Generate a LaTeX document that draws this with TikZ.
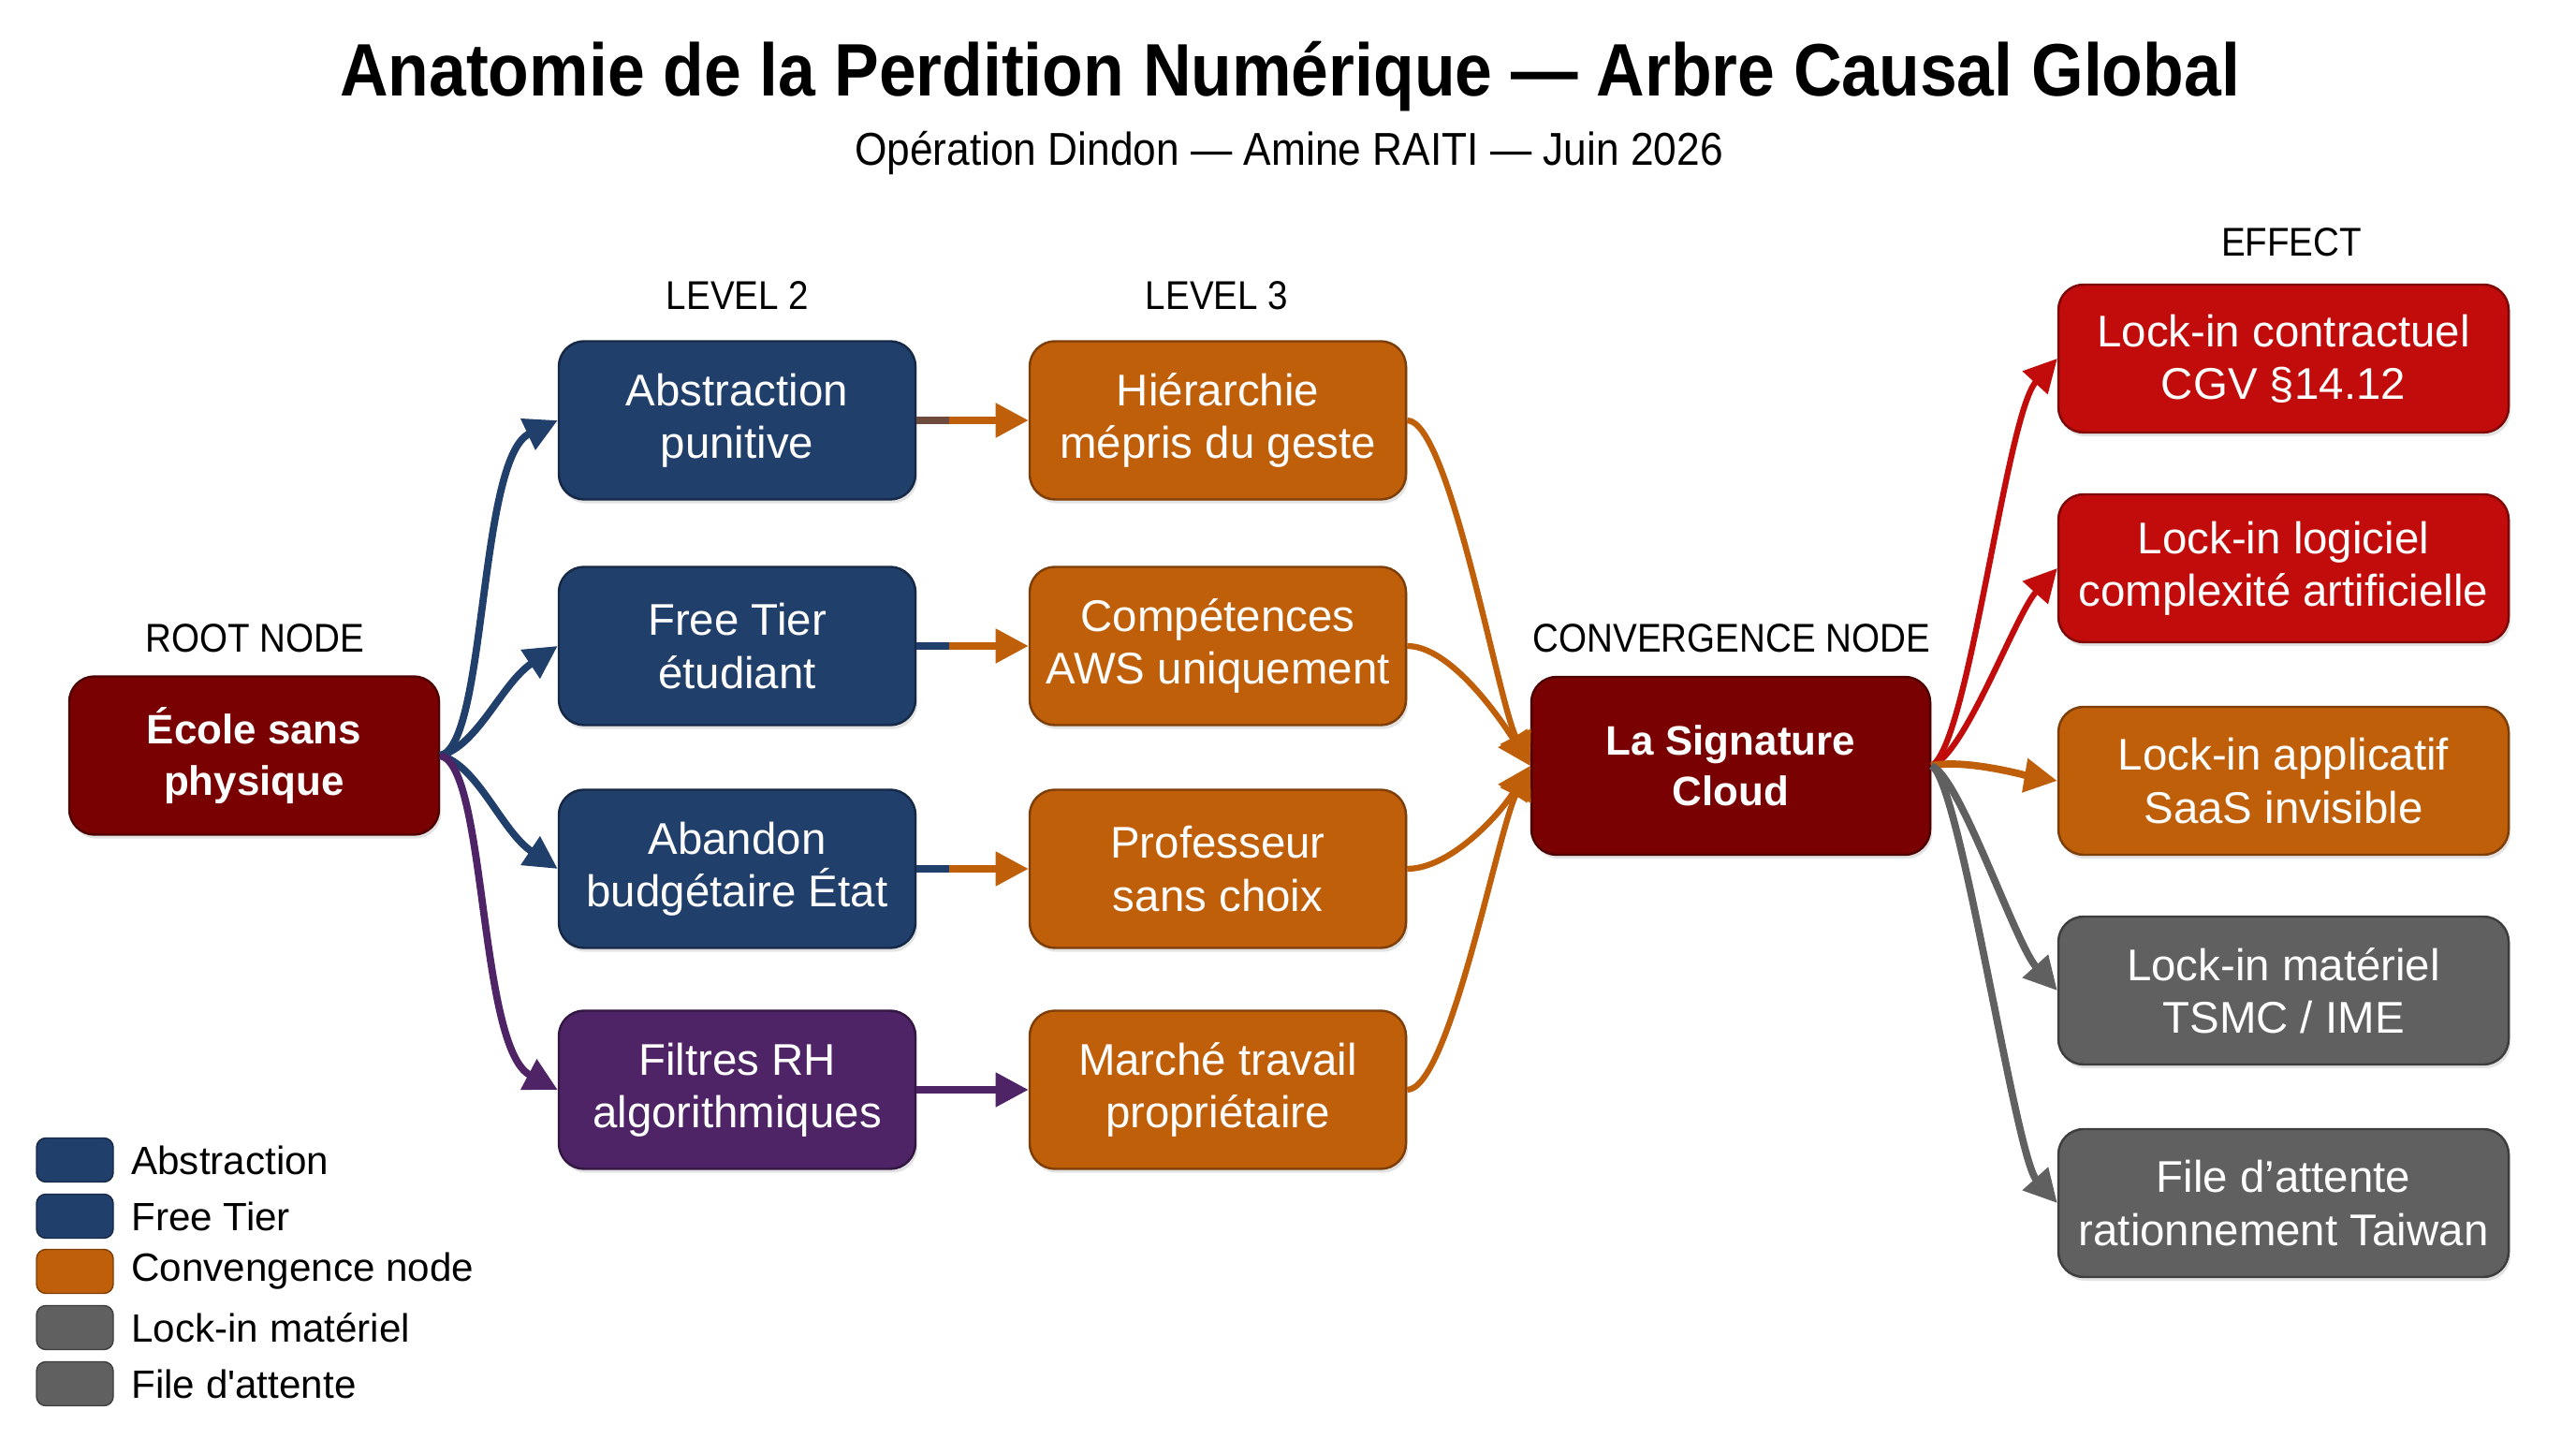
\documentclass[tikz,border=0pt]{standalone}
\usepackage{fontspec}
\setmainfont{Liberation Sans}[Ligatures=TeXOff]
\newfontfamily\condfont{Liberation Sans}[FakeStretch=0.9, Ligatures=TeXOff]
\usetikzlibrary{arrows.meta,shadows,positioning}
\definecolor{navy}{HTML}{213F6B}
\definecolor{orng}{HTML}{C05F0A}
\definecolor{purp}{HTML}{4E2466}
\definecolor{dred}{HTML}{7A0101}
\definecolor{lred}{HTML}{C20B0B}
\definecolor{gry}{HTML}{606060}
\definecolor{brwn}{HTML}{6E4B3D}
\begin{document}
\begin{tikzpicture}[
  box/.style={draw=#1!65!black, fill=#1, rounded corners=0.27cm, text=white, align=center,
    inner sep=2pt, line width=.7pt, font=\fontsize{13.5}{16}\selectfont,
    drop shadow={shadow xshift=.6pt, shadow yshift=-1.2pt, opacity=.22}},
  two/.style={minimum width=3.81cm, minimum height=1.69cm},
  three/.style={minimum width=4.02cm, minimum height=1.69cm},
  eff/.style={minimum width=4.81cm, minimum height=1.58cm},
  big/.style={font=\bfseries\fontsize{12.5}{15.5}\selectfont},
  head/.style={anchor=base, font=\condfont\fontsize{12.2}{14}\selectfont},
  arr/.style={draw=#1, line width=2.2pt, -{Triangle[length=10pt,width=10pt]}},
  thin arr/.style={arr=#1, line width=1.8pt},
  legsw/.style={draw=#1!65!black, fill=#1, rounded corners=0.1cm, minimum width=.82cm,
    minimum height=.47cm, inner sep=0pt},
  legtxt/.style={inner sep=0pt, font=\fontsize{12}{14}\selectfont}]
\useasboundingbox (0,0) rectangle (27.52,15.36);
\fill[white] (0,0) rectangle (27.52,15.36);
% titles
\node[anchor=base, font=\condfont\bfseries\fontsize{22.6}{26}\selectfont] (title) at (13.78,14.33)
  {Anatomie de la Perdition Numérique — Arbre Causal Global};
\node[anchor=base, font=\condfont\fontsize{14}{16}\selectfont] (subtitle) at (13.77,13.59)
  {Opération Dindon — Amine RAITI — Juin 2026};
% column headings
\node[head] (hroot) at (2.72,8.39) {ROOT NODE};
\node[head] (htwo) at (7.88,12.05) {LEVEL 2};
\node[head] (hthree) at (13.0,12.05) {LEVEL 3};
\node[head] (hconv) at (18.5,8.39) {CONVERGENCE NODE};
\node[head] (heff) at (24.48,12.62) {EFFECT};
% nodes
\node[box=dred, big, minimum width=3.95cm, minimum height=1.69cm] (root) at (2.715,7.29) {École sans\\physique};
\node[box=navy, two] (abs) at (7.875,10.87) {Abstraction\\punitive};
\node[box=navy, two] (free) at (7.875,8.46) {Free Tier\\étudiant};
\node[box=navy, two] (aband) at (7.875,6.08) {Abandon\\budgétaire État};
\node[box=purp, two] (filt) at (7.875,3.72) {Filtres RH\\algorithmiques};
\node[box=orng, three] (hier) at (13.01,10.87) {Hiérarchie\\mépris du geste};
\node[box=orng, three] (comp) at (13.01,8.46) {Compétences\\AWS uniquement};
\node[box=orng, three] (prof) at (13.01,6.08) {Professeur\\sans choix};
\node[box=orng, three] (marche) at (13.01,3.72) {Marché travail\\propriétaire};
\node[box=dred, big, minimum width=4.26cm, minimum height=1.90cm] (conv) at (18.49,7.18) {La Signature\\Cloud};
\node[box=lred, eff] (contr) at (24.395,11.53) {Lock-in contractuel\\CGV §14.12};
\node[box=lred, eff] (logi) at (24.395,9.29) {Lock-in logiciel\\complexité artificielle};
\node[box=orng, eff] (appl) at (24.395,7.02) {Lock-in applicatif\\SaaS invisible};
\node[box=gry, eff] (mat) at (24.395,4.78) {Lock-in matériel\\TSMC / IME};
\node[box=gry, eff] (file) at (24.395,2.51) {File d’attente\\rationnement Taiwan};
% root to level 2
\draw[arr=navy] (root.east) .. controls +(0.5,0.1) and +(-0.85,-0.4) .. (abs.west);
\draw[arr=navy] (root.east) .. controls +(0.4,0.1) and +(-0.6,-0.4) .. (free.west);
\draw[arr=navy] (root.east) .. controls +(0.4,-0.1) and +(-0.6,0.4) .. (aband.west);
\draw[arr=purp] (root.east) .. controls +(0.5,-0.1) and +(-0.85,0.45) .. (filt.west);
% level 2 to level 3
\draw[arr=orng] (abs.east) -- (hier.west);
\draw[brwn, line width=2.2pt] (abs.east) -- +(0.35,0);
\draw[arr=orng] (free.east) -- (comp.west);
\draw[navy, line width=2.2pt] (free.east) -- +(0.35,0);
\draw[arr=orng] (aband.east) -- (prof.west);
\draw[navy, line width=2.2pt] (aband.east) -- +(0.35,0);
\draw[arr=purp] (filt.east) -- (marche.west);
% level 3 to convergence
\draw[thin arr=orng] (hier.east) .. controls +(0.45,0) and +(-0.35,0.7) .. (conv.west);
\draw[thin arr=orng] (comp.east) .. controls +(0.45,0) and +(-0.35,0.55) .. (conv.west);
\draw[thin arr=orng] (prof.east) .. controls +(0.45,0) and +(-0.35,-0.55) .. (conv.west);
\draw[thin arr=orng] (marche.east) .. controls +(0.45,0) and +(-0.35,-0.7) .. (conv.west);
% convergence to effects
\draw[thin arr=lred] (conv.east) .. controls +(0.4,0.2) and +(-0.55,-0.6) .. (contr.west);
\draw[thin arr=lred] (conv.east) .. controls +(0.35,0.1) and +(-0.45,-0.5) .. (logi.west);
\draw[arr=orng] (conv.east) .. controls +(0.35,0.08) and +(-0.3,0.05) .. (appl.west);
\draw[arr=gry] (conv.east) .. controls +(0.3,-0.1) and +(-0.45,0.5) .. (mat.west);
\draw[arr=gry] (conv.east) .. controls +(0.3,-0.1) and +(-0.45,0.5) .. (file.west);
% legend
\node[legsw=navy] (sw1) at (0.80,2.97) {};
\node[legsw=navy] (sw2) at (0.80,2.37) {};
\node[legsw=orng] (sw3) at (0.80,1.78) {};
\node[legsw=gry] (sw4) at (0.80,1.18) {};
\node[legsw=gry] (sw5) at (0.80,0.58) {};
\node[legtxt, right=0.18cm of sw1] (lt1) {Abstraction};
\node[legtxt, right=0.18cm of sw2] (lt2) {Free Tier};
\node[legtxt, right=0.18cm of sw3] (lt3) {Convengence node};
\node[legtxt, right=0.18cm of sw4] (lt4) {Lock-in matériel};
\node[legtxt, right=0.18cm of sw5] (lt5) {File d'attente};
\end{tikzpicture}
\end{document}
